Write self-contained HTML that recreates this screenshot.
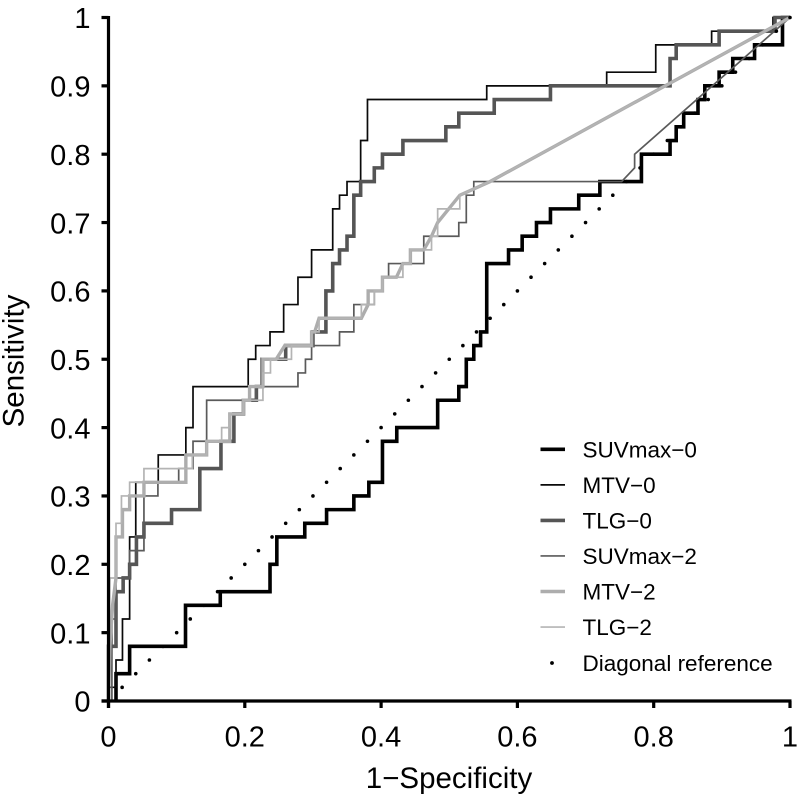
<!DOCTYPE html>
<html lang="en">
<head>
<meta charset="utf-8">
<title>ROC curves</title>
<style>
html,body{margin:0;padding:0;background:#fff;}
svg{display:block;font-family:"Liberation Sans",sans-serif;}
</style>
</head>
<body>
<svg id="chart" width="799" height="796" viewBox="0 0 799 796" xmlns="http://www.w3.org/2000/svg">
  <rect x="0" y="0" width="799" height="796" fill="#fff"/>
  <g id="series-layer"></g>
  <g id="dots-layer"></g>
  <g id="axes-layer"></g>
  <text transform="translate(23.5,361) rotate(-90)" text-anchor="middle" font-size="29.5" fill="#000">Sensitivity</text>
  <text x="449" y="788" text-anchor="middle" font-size="29.5" fill="#000">1−Specificity</text>
  <g id="legend-layer"></g>
</svg>
<script>
var xTickValues = [0, 0.2, 0.4, 0.6, 0.8, 1];
var xTickLabels = ["0", "0.2", "0.4", "0.6", "0.8", "1"];
var yTickValues = [0, 0.1, 0.2, 0.3, 0.4, 0.5, 0.6, 0.7, 0.8, 0.9, 1];
var yTickLabels = ["0", "0.1", "0.2", "0.3", "0.4", "0.5", "0.6", "0.7", "0.8", "0.9", "1"];

var suvmax0Points = [[.011,0],[.011,.04],[.031,.04],[.031,.08],[.113,.08],[.113,.14],[.164,.14],[.164,.16],[.237,.16],[.237,.20],[.247,.20],[.247,.24],[.288,.24],[.288,.26],[.32,.26],[.32,.28],[.36,.28],[.36,.30],[.382,.30],[.382,.32],[.402,.32],[.402,.38],[.423,.38],[.423,.40],[.483,.40],[.483,.44],[.514,.44],[.514,.46],[.525,.46],[.525,.50],[.536,.50],[.536,.52],[.546,.52],[.546,.54],[.555,.54],[.555,.64],[.587,.64],[.587,.66],[.607,.66],[.607,.68],[.628,.68],[.628,.70],[.6485,.70],[.6485,.72],[.69,.72],[.69,.74],[.721,.74],[.721,.76],[.782,.76],[.782,.80],[.824,.80],[.824,.82],[.833,.82],[.833,.84],[.844,.84],[.844,.86],[.865,.86],[.865,.88],[.875,.88],[.875,.90],[.896,.90],[.896,.92],[.916,.92],[.916,.94],[.948,.94],[.948,.96],[.989,.96],[.989,1],[1,1]];

var mtv0Points = [[0,0],[0,.02],[.011,.02],[.011,.06],[.0205,.06],[.0205,.12],[.031,.12],[.031,.24],[.04,.24],[.04,.32],[.073,.32],[.073,.36],[.1135,.36],[.1135,.40],[.124,.40],[.124,.46],[.205,.46],[.205,.50],[.216,.50],[.216,.52],[.237,.52],[.237,.54],[.257,.54],[.257,.58],[.278,.58],[.278,.62],[.298,.62],[.298,.66],[.329,.66],[.329,.72],[.339,.72],[.339,.74],[.35,.74],[.35,.76],[.37,.76],[.37,.82],[.38,.82],[.38,.88],[.555,.88],[.555,.90],[.731,.90],[.731,.92],[.803,.92],[.803,.96],[.885,.96],[.885,.98],[.975,.98],[.975,1],[1,1]];

var tlg0Points = [[0,0],[0,.08],[.011,.08],[.011,.16],[.0215,.16],[.0215,.18],[.031,.18],[.031,.20],[.041,.20],[.041,.24],[.052,.24],[.052,.26],[.0925,.26],[.0925,.28],[.134,.28],[.134,.34],[.165,.34],[.165,.38],[.184,.38],[.184,.42],[.198,.42],[.198,.44],[.217,.44],[.217,.46],[.2254,.46],[.2254,.50],[.26,.50],[.26,.52],[.30,.52],[.30,.54],[.319,.54],[.319,.60],[.329,.60],[.329,.64],[.339,.64],[.339,.66],[.35,.66],[.35,.68],[.36,.68],[.36,.74],[.37,.74],[.37,.76],[.39,.76],[.39,.78],[.402,.78],[.402,.80],[.432,.80],[.432,.82],[.495,.82],[.495,.84],[.514,.84],[.514,.86],[.566,.86],[.566,.88],[.6485,.88],[.6485,.90],[.824,.90],[.824,.94],[.833,.94],[.833,.96],[.896,.96],[.896,.98],[.978,.98],[.978,1],[1,1]];

var suvmax2Points = [[0,0],[.005,0],[.005,.12],[.011,.12],[.011,.18],[.031,.18],[.031,.22],[.052,.22],[.052,.30],[.0725,.30],[.0725,.32],[.103,.32],[.103,.34],[.124,.34],[.124,.38],[.144,.38],[.144,.44],[.216,.44],[.216,.46],[.278,.46],[.278,.48],[.289,.48],[.289,.50],[.298,.50],[.298,.52],[.339,.52],[.339,.54],[.36,.54],[.36,.58],[.39,.58],[.39,.60],[.402,.60],[.402,.62],[.411,.62],[.411,.64],[.4626,.64],[.4626,.68],[.514,.68],[.514,.70],[.525,.70],[.525,.74],[.536,.74],[.536,.76],[.753,.76],[.772,.78],[.772,.80],[1,1]];

var mtv2Points = [[0,0],[.002,.08],[.006,.14],[.011,.18],[.011,.24],[.0205,.24],[.0205,.28],[.031,.28],[.031,.30],[.052,.30],[.052,.32],[.1135,.32],[.1135,.36],[.144,.36],[.144,.38],[.178,.38],[.178,.42],[.198,.42],[.198,.44],[.207,.44],[.207,.46],[.2266,.46],[.2266,.50],[.246,.50],[.2587,.52],[.298,.52],[.298,.54],[.3026,.54],[.309,.56],[.371,.56],[.381,.58],[.381,.60],[.402,.60],[.402,.62],[.4225,.62],[.432,.64],[.443,.64],[.443,.66],[.4626,.66],[.474,.68],[.483,.70],[.5155,.74],[.56,.76],[1,1]];

var tlg2Points = [[0,0],[.002,.18],[.011,.18],[.011,.26],[.019,.26],[.019,.30],[.031,.30],[.031,.32],[.052,.32],[.052,.34],[.123,.34],[.123,.36],[.144,.36],[.144,.38],[.166,.38],[.166,.40],[.178,.40],[.178,.42],[.198,.42],[.198,.44],[.2266,.44],[.2266,.48],[.2377,.48],[.2377,.50],[.2685,.50],[.2685,.52],[.298,.52],[.298,.54],[.309,.54],[.309,.56],[.371,.56],[.371,.58],[.39,.58],[.39,.60],[.402,.60],[.402,.62],[.432,.62],[.432,.64],[.443,.64],[.443,.66],[.474,.66],[.474,.68],[.483,.68],[.483,.72],[.5155,.72],[.5155,.74],[.56,.76],[1,1]];

var diagonalValues = [.02,.04,.06,.08,.10,.12,.14,.16,.18,.20,.22,.24,.26,.28,.30,.32,.34,.36,.38,.40,.42,.44,.46,.48,.50,.52,.54,.56,.58,.60,.62,.64,.66,.68,.70,.72,.74,.76,.78,.80,.82,.84,.86,.88,.90,.92,.94,.96,.98,1];

var seriesNames = ["SUVmax−0", "MTV−0", "TLG−0", "SUVmax−2", "MTV−2", "TLG−2"];
var seriesPoints = [suvmax0Points, mtv0Points, tlg0Points, suvmax2Points, mtv2Points, tlg2Points];
var seriesColors = ["#000000", "#0a0a0a", "#555555", "#5a5a5a", "#adadad", "#b4b4b4"];
var seriesWidths = [3.6, 1.7, 3.6, 1.7, 3.4, 1.7];
var seriesKeys = ["suvmax-0", "mtv-0", "tlg-0", "suvmax-2", "mtv-2", "tlg-2"];

var SVG_NS = "http://www.w3.org/2000/svg";
function xScale(v) { return 108.5 + v * 681.5; }
function yScale(v) { return 701 - v * 683.5; }
function make(tag, parent) {
  var el = document.createElementNS(SVG_NS, tag);
  parent.appendChild(el);
  return el;
}

var seriesLayer = document.getElementById("series-layer");
seriesPoints.forEach(function (pts, i) {
  var line = make("polyline", seriesLayer);
  
  
  line.setAttribute("points", pts.map(function (p) {
    return xScale(p[0]).toFixed(2) + "," + yScale(p[1]).toFixed(2);
  }).join(" "));
  line.setAttribute("fill", "none");
  line.setAttribute("stroke", seriesColors[i]);
  line.setAttribute("stroke-width", seriesWidths[i]);
  line.setAttribute("stroke-linejoin", "miter");
});

var dotsLayer = document.getElementById("dots-layer");
diagonalValues.forEach(function (v) {
  var dot = make("circle", dotsLayer);
  
  
  dot.setAttribute("cx", xScale(v));
  dot.setAttribute("cy", yScale(v));
  dot.setAttribute("r", 1.8);
  dot.setAttribute("fill", "#000");
});

var axesLayer = document.getElementById("axes-layer");
var yAxisLine = make("line", axesLayer);


yAxisLine.setAttribute("x1", xScale(0));
yAxisLine.setAttribute("x2", xScale(0));
yAxisLine.setAttribute("y1", yScale(1) - 1.5);
yAxisLine.setAttribute("y2", 708);
yAxisLine.setAttribute("stroke", "#000");
yAxisLine.setAttribute("stroke-width", 3.2);

var xAxisLine = make("line", axesLayer);


xAxisLine.setAttribute("x1", 101.5);
xAxisLine.setAttribute("x2", xScale(1) + 1.5);
xAxisLine.setAttribute("y1", yScale(0));
xAxisLine.setAttribute("y2", yScale(0));
xAxisLine.setAttribute("stroke", "#000");
xAxisLine.setAttribute("stroke-width", 3.2);

xTickValues.forEach(function (v, i) {
  var tick = make("line", axesLayer);
  
  
  tick.setAttribute("x1", xScale(v));
  tick.setAttribute("x2", xScale(v));
  tick.setAttribute("y1", yScale(0));
  tick.setAttribute("y2", 708);
  tick.setAttribute("stroke", "#000");
  tick.setAttribute("stroke-width", 3.2);
  var label = make("text", axesLayer);
  
  
  label.setAttribute("x", xScale(v));
  label.setAttribute("y", 746.5);
  label.setAttribute("text-anchor", "middle");
  label.setAttribute("font-size", 29);
  label.textContent = xTickLabels[i];
});

yTickValues.forEach(function (v, i) {
  var tick = make("line", axesLayer);
  
  
  tick.setAttribute("x1", 101.5);
  tick.setAttribute("x2", xScale(0));
  tick.setAttribute("y1", yScale(v));
  tick.setAttribute("y2", yScale(v));
  tick.setAttribute("stroke", "#000");
  tick.setAttribute("stroke-width", 3.2);
  var label = make("text", axesLayer);
  
  
  label.setAttribute("x", 90.5);
  label.setAttribute("y", yScale(v) + 10.7);
  label.setAttribute("text-anchor", "end");
  label.setAttribute("font-size", 29);
  label.textContent = yTickLabels[i];
});

var legendLayer = document.getElementById("legend-layer");
seriesNames.forEach(function (name, i) {
  var cy = 449.3 + i * 35.55;
  var handle = make("line", legendLayer);
  
  
  handle.setAttribute("x1", 540.5);
  handle.setAttribute("x2", 565);
  handle.setAttribute("y1", cy);
  handle.setAttribute("y2", cy);
  handle.setAttribute("stroke", seriesColors[i]);
  handle.setAttribute("stroke-width", seriesWidths[i]);
  var text = make("text", legendLayer);
  
  
  text.setAttribute("x", 582.5);
  text.setAttribute("y", cy + 8);
  text.setAttribute("font-size", 22.5);
  text.textContent = name;
});

var legendDot = make("circle", legendLayer);


legendDot.setAttribute("cx", 552);
legendDot.setAttribute("cy", 663);
legendDot.setAttribute("r", 1.9);
legendDot.setAttribute("fill", "#000");

var legendDotText = make("text", legendLayer);


legendDotText.setAttribute("x", 582.5);
legendDotText.setAttribute("y", 671);
legendDotText.setAttribute("font-size", 22.5);
legendDotText.textContent = "Diagonal reference";
</script>
</body>
</html>
